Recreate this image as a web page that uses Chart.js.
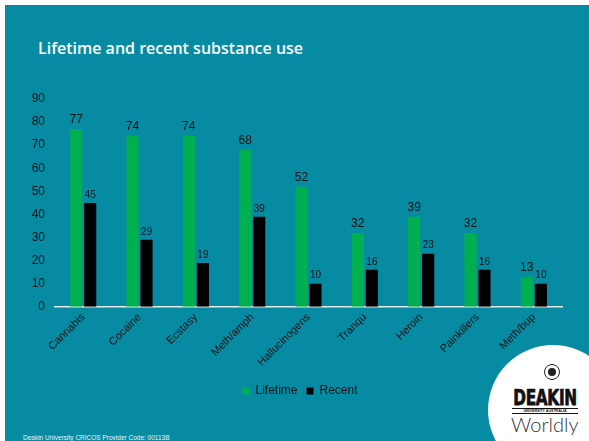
<!DOCTYPE html>
<html>
<head>
<meta charset="utf-8">
<script src="https://cdn.jsdelivr.net/npm/chart.js@4/dist/chart.umd.min.js"></script>
<style>
  html, body { margin: 0; padding: 0; background: #fff; }
  #slide { position: absolute; left: 5px; top: 5px; width: 584px; height: 436px; background: #078ba3; overflow: hidden; }
  #title { position: absolute; left: 33px; top: 32px; color: #fff; font: 600 16px "Open Sans", sans-serif; }
  #wrap { position: absolute; left: -5px; top: 72px; width: 589px; height: 330px; }
  #footer { position: absolute; left: 18px; top: 429px; color: #e8f4f7; font: 6.5px "Liberation Sans", Arial, sans-serif; white-space: nowrap; }
  #logo { position: absolute; left: 483px; top: 340px; width: 130px; height: 130px; border-radius: 50%; background: #fff; }
  #emblem { position: absolute; left: 56px; top: 19px; width: 16px; height: 16px; border-radius: 50%; border: 1.5px solid #222; box-sizing: border-box; }
  #emblem div { position: absolute; left: 2.5px; top: 2.5px; width: 8px; height: 8px; border-radius: 50%; background: #222; }
  #deakin { position: absolute; left: 22px; top: 40px; width: 70px; text-align: center; font: bold 17px "DejaVu Sans Condensed", sans-serif; color: #111; transform: scaleY(1.25); transform-origin: top; letter-spacing: -0.3px; -webkit-text-stroke: 0.6px #111; }
  #uni { position: absolute; left: 24px; top: 63px; width: 66px; text-align: center; font: bold 3.6px "Liberation Sans", sans-serif; color: #111; border-top: 1px solid #111; border-bottom: 1px solid #111; line-height: 4px; }
  #worldly { position: absolute; left: 23px; top: 67px; width: 66px; text-align: center; font: 300 20px "Lato", "Open Sans", sans-serif; color: #333; }
</style>
</head>
<body>
<div id="slide">
  <div id="title">Lifetime and recent substance use</div>
  <div id="wrap"><canvas id="grafico"></canvas></div>
  <div id="logo">
    <div id="emblem"><div></div></div>
    <div id="deakin">DEAKIN</div>
    <div id="uni">UNIVERSITY AUSTRALIA</div>
    <div id="worldly">Worldly</div>
  </div>
  <div id="footer">Deakin University  CRICOS Provider  Code: 00113B</div>
</div>
<script>
const sustancias = ['Cannabis', 'Cocaine', 'Ecstasy', 'Meth/amph', 'Hallucinogens', 'Tranqu', 'Heroin', 'Painkillers', 'Meth/bup'];
const lifetime = [77, 74, 74, 68, 52, 32, 39, 32, 13];
const recent = [45, 29, 19, 39, 10, 16, 23, 16, 10];
const yTicks = [0, 10, 20, 30, 40, 50, 60, 70, 80, 90];

Chart.defaults.font.family = '"Liberation Sans", Arial, sans-serif';
Chart.defaults.color = '#111';

// etiquetas de valor encima de cada barra
const etiquetas = {
  id: 'etiquetas',
  afterDatasetsDraw(chart) {
    const ctx = chart.ctx;
    ctx.save();
    ctx.fillStyle = '#111';
    ctx.textAlign = 'center';
    ctx.textBaseline = 'bottom';
    chart.data.datasets.forEach((ds, i) => {
      ctx.font = (i === 0 ? '12px' : '10px') + ' "Liberation Sans", Arial, sans-serif';
      chart.getDatasetMeta(i).data.forEach((bar, j) => {
        ctx.fillText(ds.data[j], bar.x, bar.y - 3);
      });
    });
    ctx.restore();
  }
};

// la leyenda va un poco a la derecha del centro
const moverLeyenda = {
  id: 'moverLeyenda',
  afterLayout(chart) {
    chart.legend.left += 38;
    chart.legend.top += 3;
    chart.legend.bottom += 3;
  }
};

new Chart(document.getElementById('grafico'), {
  type: 'bar',
  data: {
    labels: sustancias,
    datasets: [
      { label: 'Lifetime', data: lifetime, backgroundColor: '#00b050', categoryPercentage: 0.5, barPercentage: 0.86 },
      { label: 'Recent', data: recent, backgroundColor: '#000000', categoryPercentage: 0.5, barPercentage: 0.86 }
    ]
  },
  options: {
    responsive: true,
    maintainAspectRatio: false,
    animation: false,
    layout: { padding: { top: 22, right: 27, left: 0, bottom: 3 } },
    plugins: {
      legend: {
        position: 'bottom',
        labels: { boxWidth: 7, boxHeight: 7, font: { size: 12 }, padding: 9 }
      },
      tooltip: { enabled: false }
    },
    scales: {
      x: {
        grid: { display: false, drawTicks: false },
        border: { display: true, color: '#e8e8e8', width: 1.5 },
        ticks: { font: { size: 11 }, minRotation: 45, maxRotation: 45, padding: 4 }
      },
      y: {
        min: 0, max: 90,
        afterFit: s => { s.width = 55; },
        afterBuildTicks: s => { s.ticks = yTicks.map(v => ({ value: v })); },
        grid: { display: false, drawTicks: false },
        border: { display: false },
        ticks: { font: { size: 12 }, padding: 10 }
      }
    }
  },
  plugins: [etiquetas, moverLeyenda]
});
</script>
</body>
</html>
